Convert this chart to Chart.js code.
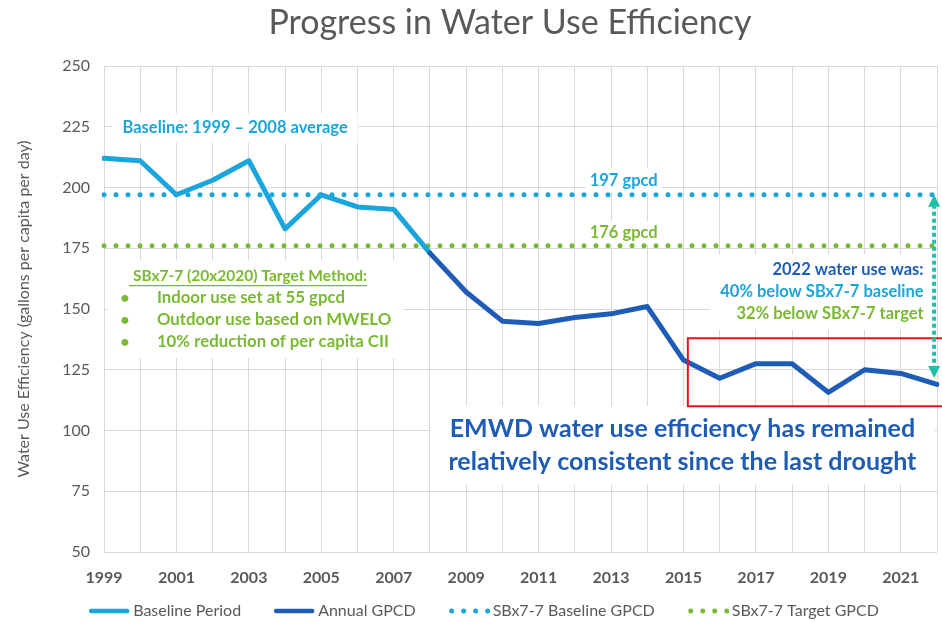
<!DOCTYPE html>
<html><head><meta charset="utf-8">
<script src="https://cdn.jsdelivr.net/npm/chart.js@4.4.1/dist/chart.umd.min.js"></script>
<style>html,body{margin:0;padding:0;background:#fff}#wrap{width:942px;height:623px}</style>
</head><body><div id="wrap"><canvas id="c" width="942" height="623"></canvas></div>
<script>
// ---- data ----
const years = ['1999','2000','2001','2002','2003','2004','2005','2006','2007','2008','2009','2010','2011','2012','2013','2014','2015','2016','2017','2018','2019','2020','2021','2022'];
const baselinePeriod = [212,211,197,203,211,183,197,192,191,173,null,null,null,null,null,null,null,null,null,null,null,null,null,null];
const annualGPCD = [null,null,null,null,null,null,null,null,null,173,157,145,144,146.5,148,151,129,121.5,127.5,127.5,115.7,125,123.5,119];
const sbBaselineGPCD = [197,197,197,197,197,197,197,197,197,197,197,197,197,197,197,197,197,197,197,197,197,197,197,197];
const sbTargetGPCD = [176,176,176,176,176,176,176,176,176,176,176,176,176,176,176,176,176,176,176,176,176,176,176,176];
const seriesNames = ['Baseline Period','Annual GPCD','SBx7-7 Baseline GPCD','SBx7-7 Target GPCD'];
const yTicks = [50,75,100,125,150,175,200,225,250];
const chartTitle = 'Progress in Water Use Efficiency';
const yTitle = 'Water Use Efficiency (gallons per capita per day)';

// ---- styles ----
const C_LIGHT = '#1aa5dc', C_DARK = '#1f5cb5', C_GREEN = '#7ab933', C_TEAL = '#1fc0a8', C_GREY = '#595959', C_RED = '#e8141a';
const FONT = 'Lato, "Open Sans", sans-serif';

// annotation blocks (x in category index units, y in data units)
const notes = [
  {pad:[10,5], lines:[
    {t:'Baseline: 1999 \u2013 2008 average', x:3.62, y:224.5, align:'center', color:C_LIGHT, size:16.5, bold:true}]},
  {pad:[4,2], lines:[{t:'197 gpcd', x:14.35, y:203, align:'center', color:C_LIGHT, size:16.5, bold:true}]},
  {pad:[4,2], lines:[{t:'176 gpcd', x:14.35, y:181.3, align:'center', color:C_GREEN, size:16.5, bold:true}]},
  {pad:[12,6], lines:[
    {t:'SBx7-7 (20x2020) Target Method:', x:0.8, y:163.6, align:'left', color:C_GREEN, size:15.5, bold:true, underline:true},
    {t:'\u2022', x:0.58, y:154.5, align:'center', color:C_GREEN, size:16, bold:true},
    {t:'Indoor use set at 55 gpcd', x:1.46, y:154.5, align:'left', color:C_GREEN, size:16.8, bold:true},
    {t:'\u2022', x:0.58, y:145.5, align:'center', color:C_GREEN, size:16, bold:true},
    {t:'Outdoor use based on MWELO', x:1.46, y:145.5, align:'left', color:C_GREEN, size:16.8, bold:true},
    {t:'\u2022', x:0.58, y:136.4, align:'center', color:C_GREEN, size:16, bold:true},
    {t:'10% reduction of per capita CII', x:1.46, y:136.4, align:'left', color:C_GREEN, size:16.8, bold:true}]},
  {pad:[10,6], lines:[
    {t:'2022 water use was:', x:22.63, y:166, align:'right', color:C_DARK, size:16.5, bold:true},
    {t:'40% below SBx7-7 baseline', x:22.63, y:157, align:'right', color:C_LIGHT, size:16.5, bold:true},
    {t:'32% below SBx7-7 target', x:22.63, y:148, align:'right', color:C_GREEN, size:16.5, bold:true}]},
  {pad:[18,8], lines:[
    {t:'EMWD water use efficiency has remained', x:15.97, y:100.7, align:'center', color:C_DARK, size:25, bold:true},
    {t:'relatively consistent since the last drought', x:15.97, y:87.2, align:'center', color:C_DARK, size:25, bold:true}]}
];
const highlightBox = {x0:16.12, y0:138, y1:110};
const arrowSpan = {x:22.92, from:197, to:121.6};
const titlePos = {x:510, y:23, size:34};
const legendPos = {cx:484, y:611, sample:40, gap:4, spacing:33, size:16};

const notesPlugin = {
  id:'notes',
  beforeDatasetsDraw(chart){
    const {ctx, scales:{x, y}} = chart;
    ctx.save();
    notes.forEach(n => {
      let L=Infinity,R=-Infinity,T=Infinity,B=-Infinity;
      n.lines.forEach(l => {
        ctx.font = (l.bold?'bold ':'') + l.size + 'px ' + FONT;
        const w = ctx.measureText(l.t).width;
        const px = x.getPixelForValue(l.x), py = y.getPixelForValue(l.y);
        const lx = l.align==='left'?px:(l.align==='right'?px-w:px-w/2);
        L=Math.min(L,lx); R=Math.max(R,lx+w); T=Math.min(T,py-l.size*0.6); B=Math.max(B,py+l.size*0.6);
      });
      ctx.fillStyle='#fff';
      ctx.fillRect(L-n.pad[0], T-n.pad[1], R-L+2*n.pad[0], B-T+2*n.pad[1]);
      n.lines.forEach(l => {
        ctx.font = (l.bold?'bold ':'') + l.size + 'px ' + FONT;
        ctx.fillStyle = l.color; ctx.textAlign = l.align; ctx.textBaseline='middle';
        const px = x.getPixelForValue(l.x), py = y.getPixelForValue(l.y);
        ctx.fillText(l.t, px, py);
        if (l.underline){
          const w = ctx.measureText(l.t).width;
          ctx.strokeStyle=l.color; ctx.lineWidth=1.2;
          ctx.beginPath(); ctx.moveTo(px-4, py+l.size*0.62); ctx.lineTo(px+w, py+l.size*0.62); ctx.stroke();
        }
      });
    });
    ctx.restore();
  },
  afterDatasetsDraw(chart){
    const {ctx, scales:{x, y}} = chart;
    ctx.save();
    // red highlight box (open to the right edge)
    const bx = x.getPixelForValue(highlightBox.x0), by0 = y.getPixelForValue(highlightBox.y0), by1 = y.getPixelForValue(highlightBox.y1);
    ctx.strokeStyle = C_RED; ctx.lineWidth = 2;
    ctx.beginPath(); ctx.moveTo(chart.width, by0); ctx.lineTo(bx, by0); ctx.lineTo(bx, by1); ctx.lineTo(chart.width, by1); ctx.stroke();
    // double arrow
    const ax = x.getPixelForValue(arrowSpan.x), ay0 = y.getPixelForValue(arrowSpan.from), ay1 = y.getPixelForValue(arrowSpan.to);
    ctx.strokeStyle = C_TEAL; ctx.fillStyle = C_TEAL; ctx.lineWidth = 4; ctx.setLineDash([4,3]);
    ctx.beginPath(); ctx.moveTo(ax, ay0+10); ctx.lineTo(ax, ay1-10); ctx.stroke();
    ctx.setLineDash([]);
    ctx.beginPath(); ctx.moveTo(ax, ay0); ctx.lineTo(ax-6, ay0+12); ctx.lineTo(ax+6, ay0+12); ctx.closePath(); ctx.fill();
    ctx.beginPath(); ctx.moveTo(ax, ay1); ctx.lineTo(ax-6, ay1-12); ctx.lineTo(ax+6, ay1-12); ctx.closePath(); ctx.fill();
    ctx.restore();
  },
  afterDraw(chart){
    const ctx = chart.ctx;
    ctx.save();
    // title
    ctx.font = titlePos.size + 'px ' + FONT; ctx.fillStyle = C_GREY; ctx.textAlign='center'; ctx.textBaseline='middle';
    ctx.fillText(chartTitle, titlePos.x, titlePos.y);
    // legend from datasets
    ctx.font = legendPos.size + 'px ' + FONT;
    const ds = chart.data.datasets;
    const widths = ds.map(d => ctx.measureText(d.label).width);
    const total = widths.reduce((a,w)=>a + legendPos.sample + legendPos.gap + w, 0) + legendPos.spacing*(ds.length-1);
    let cx = legendPos.cx - total/2;
    ds.forEach((d,i) => {
      ctx.strokeStyle = d.borderColor; ctx.lineWidth = d.borderDash ? 5 : 4.5; ctx.lineCap='round';
      ctx.setLineDash(d.borderDash ? [0, 12] : []);
      ctx.beginPath();
      if (d.borderDash) { ctx.moveTo(cx+3, legendPos.y); ctx.lineTo(cx+legendPos.sample, legendPos.y); }
      else { ctx.moveTo(cx+2, legendPos.y); ctx.lineTo(cx+legendPos.sample-2, legendPos.y); }
      ctx.stroke();
      ctx.setLineDash([]);
      ctx.fillStyle = C_GREY; ctx.textAlign='left';
      ctx.fillText(d.label, cx + legendPos.sample + legendPos.gap, legendPos.y);
      cx += legendPos.sample + legendPos.gap + widths[i] + legendPos.spacing;
    });
    ctx.restore();
  }
};

const dotted = {borderDash:[0,12], borderCapStyle:'round', borderWidth:5, pointRadius:0, fill:false};
new Chart(document.getElementById('c'), {
  type:'line',
  data:{
    labels: years,
    datasets:[
      {label:seriesNames[0], data:baselinePeriod, borderColor:C_LIGHT, backgroundColor:C_LIGHT, borderWidth:5, pointRadius:0, borderCapStyle:'round', borderJoinStyle:'round', order:1},
      {label:seriesNames[1], data:annualGPCD, borderColor:C_DARK, backgroundColor:C_DARK, borderWidth:5, pointRadius:0, borderCapStyle:'round', borderJoinStyle:'round', order:0},
      Object.assign({label:seriesNames[2], data:sbBaselineGPCD, borderColor:C_LIGHT, backgroundColor:C_LIGHT, order:2}, dotted),
      Object.assign({label:seriesNames[3], data:sbTargetGPCD, borderColor:C_GREEN, backgroundColor:C_GREEN, order:3}, dotted)
    ]
  },
  options:{
    responsive:false, animation:false, devicePixelRatio:1,
    layout:{padding:{left:0, right:5, top:66, bottom:31}},
    plugins:{ title:{display:false}, legend:{display:false}, tooltip:{enabled:false} },
    scales:{
      x:{
        type:'category', offset:false,
        afterFit:(s)=>{ s.height = 40; s.paddingLeft = 0; s.paddingRight = 0; },
        grid:{color:'#d9d9d9', drawTicks:false},
        border:{display:false},
        ticks:{autoSkip:false, maxRotation:0, padding:16, color:C_GREY, font:{family:FONT, size:16, weight:'bold'},
          callback:(v,i)=> (i%2===0 ? years[i] : '')}
      },
      y:{
        min:50, max:250,
        afterBuildTicks:(s)=>{ s.ticks = yTicks.map(v=>({value:v})); },
        afterFit:(s)=>{ s.width = 104; s.paddingTop = 0; s.paddingBottom = 0; },
        grid:{color:'#d9d9d9', drawTicks:false},
        border:{display:false},
        ticks:{padding:14, color:C_GREY, font:{family:FONT, size:16}},
        title:{display:true, text:yTitle, color:C_GREY, font:{family:FONT, size:16}, padding:{top:14, bottom:0}}
      }
    }
  },
  plugins:[notesPlugin]
});
</script></body></html>
